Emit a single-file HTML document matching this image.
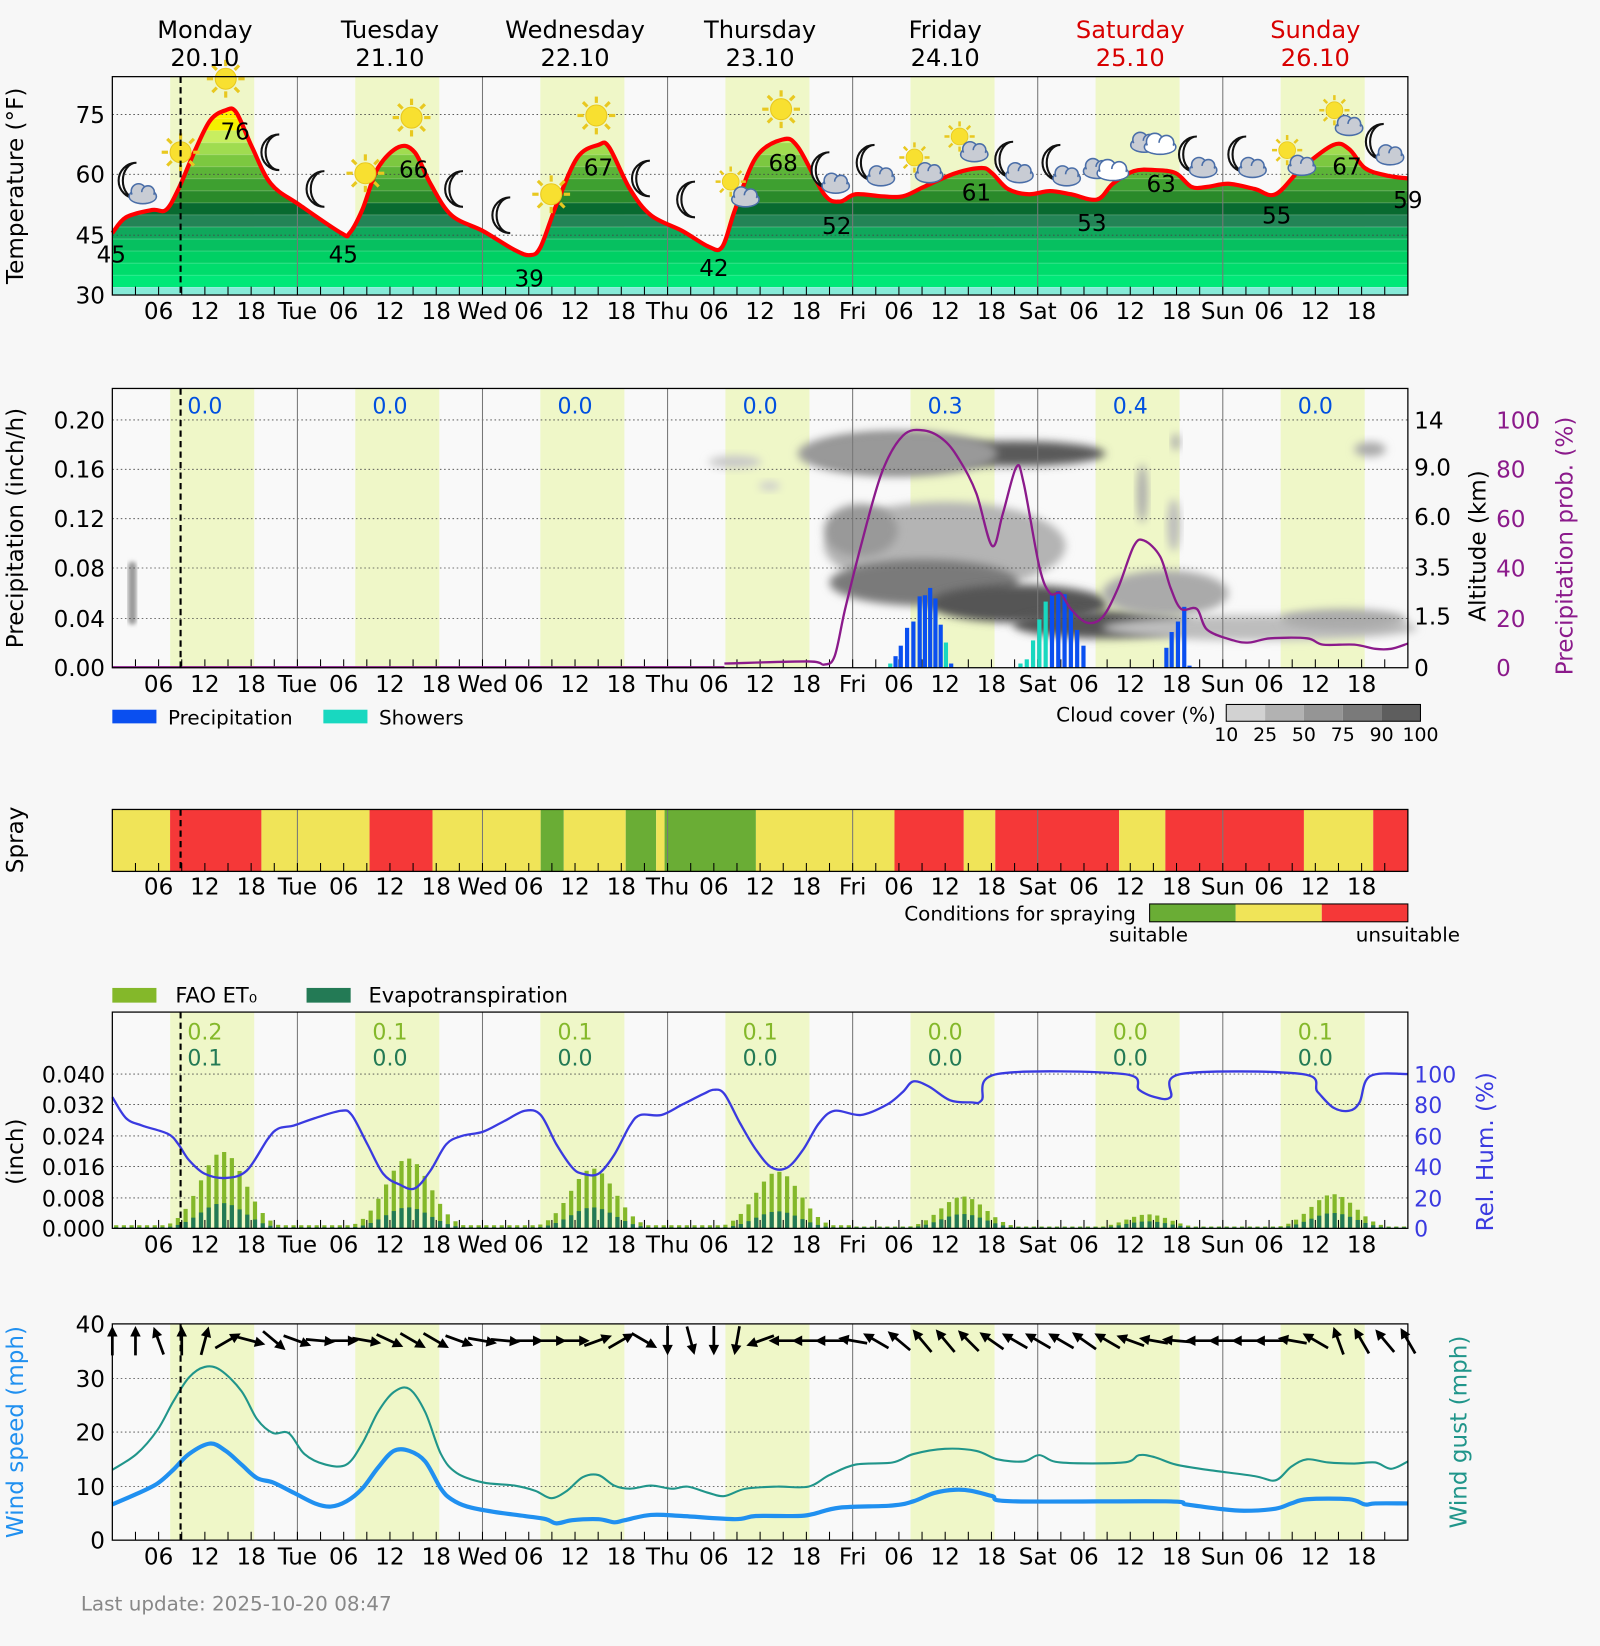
<!DOCTYPE html>
<html><head><meta charset="utf-8">
<style>
html,body{margin:0;padding:0;background:#f7f7f7;}
svg{display:block;font-family:"DejaVu Sans","Liberation Sans",sans-serif;}
</style></head>
<body>
<svg id="s" width="1600" height="1646" viewBox="0 0 1524 1567.8" xmlns="http://www.w3.org/2000/svg"></svg>
<script>
const L=107,R=1341,PX=1234/168;
const X=h=>L+h*PX;
let o='';
function cr(p){let d=`M${p[0][0]},${p[0][1]}`;for(let i=0;i<p.length-1;i++){const a=p[Math.max(i-1,0)],b=p[i],c=p[i+1],e=p[Math.min(i+2,p.length-1)];
 const c1=[b[0]+(c[0]-a[0])/6,b[1]+(c[1]-a[1])/6],c2=[c[0]-(e[0]-b[0])/6,c[1]-(e[1]-b[1])/6];
 d+=`C${c1[0].toFixed(1)},${c1[1].toFixed(1)} ${c2[0].toFixed(1)},${c2[1].toFixed(1)} ${c[0]},${c[1]}`;}return d;}
o+='<defs><filter id="bl" x="-30%" y="-50%" width="160%" height="200%"><feGaussianBlur stdDeviation="4"/></filter>'+
'<filter id="bl2"><feGaussianBlur stdDeviation="2"/></filter>'+
'<g id="sun"><g stroke="#e8c820" stroke-width="3">'+[0,45,90,135,180,225,270,315].map(a=>{const r=a*Math.PI/180;return `<line x1="${(Math.cos(r)*12).toFixed(1)}" y1="${(Math.sin(r)*12).toFixed(1)}" x2="${(Math.cos(r)*18).toFixed(1)}" y2="${(Math.sin(r)*18).toFixed(1)}"/>`}).join('')+'</g><circle r="10" fill="#f8e030" stroke="#e8c820"/></g>'+
'<path id="moon" d="M4,-17 A17,17 0 1 0 4,17 A13,17 0 1 1 4,-17Z" fill="#fff" stroke="#111" stroke-width="2"/>'+
'<g id="cl"><ellipse cx="0" cy="4" rx="13" ry="7" fill="#c8ccd4" stroke="#4a6ea8" stroke-width="1.5"/><circle cx="-4" cy="-1" r="7" fill="#c8ccd4" stroke="#4a6ea8" stroke-width="1.5"/><circle cx="5" cy="0" r="6" fill="#c8ccd4" stroke="#4a6ea8" stroke-width="1.5"/><ellipse cx="0" cy="5" rx="12" ry="5" fill="#c8ccd4"/></g>'+
'<g id="wcl"><ellipse cx="0" cy="4" rx="15" ry="7" fill="#fff" stroke="#4a6ea8" stroke-width="1.5"/><circle cx="-5" cy="-1" r="8" fill="#fff" stroke="#4a6ea8" stroke-width="1.5"/><circle cx="6" cy="0" r="7" fill="#fff" stroke="#4a6ea8" stroke-width="1.5"/><ellipse cx="0" cy="5" rx="14" ry="5" fill="#fff"/></g>'+
'</defs>';
o+='<rect width="1524" height="1568" fill="#f7f7f7"/>';
const plots=[[73,281],[370,636],[771,830],[964,1170],[1261,1467]];
plots.forEach(([t,b],i)=>{
 o+=`<rect x="${L}" y="${t}" width="${R-L}" height="${b-t}" fill="#f9f9f9"/>`;
 if(i!=2) for(let d=0;d<7;d++) o+=`<rect x="${X(d*24+7.5)}" y="${t}" width="${10.9*PX}" height="${b-t}" fill="#eff7c8"/>`;
});
function pl(pts,st,w){return `<path d="${cr(pts)}" fill="none" stroke="${st}" stroke-width="${w}" stroke-linejoin="round"/>`;}
function txt(x,y,s,sz,fill='#000',anc='middle',extra=''){return `<text x="${x}" y="${y}" font-size="${sz}" fill="${fill}" text-anchor="${anc}" ${extra}>${s}</text>`;}
function rot(x,y,s,sz,fill='#000'){return `<text x="${x}" y="${y}" font-size="${sz}" fill="${fill}" text-anchor="middle" transform="rotate(-90 ${x} ${y})">${s}</text>`;}
const tp=[[107,222],[120,207],[145,200],[158,200],[170,180],[185,145],[200,115],[215,105],[225,107],[240,140],[258,175],[285,195],[325,222],[333,222],[345,200],[360,160],[380,140],[395,145],[410,175],[430,205],[460,220],[490,238],[505,243],[515,235],[530,195],[550,150],[570,138],[580,140],[600,180],[620,205],[650,220],[675,235],[688,235],[700,200],[720,150],[745,133],[760,140],[785,185],[800,192],[815,185],[840,187],[860,187],[880,178],[910,165],[935,160],[945,165],[960,180],[980,185],[1000,182],[1020,185],[1045,190],[1060,175],[1080,163],[1100,162],[1120,165],[1135,178],[1150,178],[1170,175],[1195,180],[1215,185],[1240,160],[1270,138],[1285,142],[1300,160],[1320,167],[1341,170]];
o+=`<clipPath id="tc"><path d="${cr(tp)} L1341,281 L107,281Z"/></clipPath><g clip-path="url(#tc)">`;
const bands=[[30,32,'#86ead8'],[32,35,'#00e878'],[35,38,'#00dc6c'],[38,41,'#00d064'],[41,44,'#06c060'],[44,47,'#10a85c'],[47,50,'#238456'],[50,53,'#086a30'],[53,56,'#2a8a2a'],[56,59,'#3ea030'],[59,62,'#5cb438'],[62,65,'#7cc840'],[65,68,'#a0dc50'],[68,71,'#c8ee60'],[71,74,'#f4f000'],[74,80,'#fff200']];
bands.forEach(([a,b,c])=>{const y1=281-(b-30)*3.822,y2=281-(a-30)*3.822;o+=`<rect x="107" y="${y1}" width="1234" height="${y2-y1}" fill="${c}"/><line x1="107" x2="1341" y1="${y1}" y2="${y1}" stroke="#ffffff" stroke-opacity=".3"/>`;});
o+='</g>';
function grid(t,b,ys,vlines=true){let s='';ys.forEach(y=>s+=`<line x1="${L}" x2="${R}" y1="${y}" y2="${y}" stroke="#444" stroke-width="0.8" stroke-dasharray="1.5,2.5"/>`);
 if(vlines) for(let d=1;d<7;d++) s+=`<line x1="${X(d*24)}" x2="${X(d*24)}" y1="${t}" y2="${b}" stroke="#777" stroke-width="1"/>`;
 for(let h=3;h<168;h+=3) s+=`<line x1="${X(h)}" x2="${X(h)}" y1="${b}" y2="${b-8}" stroke="#000" stroke-width="1"/>`;
 return s;}
o+=grid(73,281,[109,166,224]);
o+=pl(tp,'#f00',4);
const ic=[[130,175,'mc'],[172,145,'sun'],[215,75,'sun'],[262,145,'moon'],[305,180,'moon'],[348,165,'sun'],[392,112,'sun'],[437,180,'moon'],[482,205,'moon'],[525,185,'sun'],[568,110,'sun'],[615,170,'moon'],[658,190,'moon'],[700,178,'sc'],[744,104,'sun'],[790,165,'mc'],[833,158,'mc'],[875,155,'sc'],[918,135,'sc'],[965,155,'mc'],[1010,158,'mc'],[1055,155,'cc'],[1100,130,'cc'],[1140,150,'mc'],[1187,150,'mc'],[1230,148,'sc'],[1275,110,'sc'],[1318,138,'mc']];
ic.forEach(([x,y,t])=>{
 if(t=='sun') o+=`<use href="#sun" x="${x}" y="${y}"/>`;
 else if(t=='moon') o+=`<use href="#moon" x="${x}" y="${y}"/>`;
 else if(t=='mc') o+=`<use href="#moon" x="${x-4}" y="${y-3}"/><use href="#cl" x="${x+6}" y="${y+8}"/>`;
 else if(t=='sc') o+=`<g transform="translate(${x-4},${y-5}) scale(.8)"><use href="#sun"/></g><use href="#cl" x="${x+10}" y="${y+8}"/>`;
 else o+=`<use href="#cl" x="${x-10}" y="${y+4}"/><use href="#wcl" x="${x+5}" y="${y+6}"/>`;
});
[[224,125,76],[394,161,66],[570,159,67],[746,155,68],[930,183,61],[1106,175,63],[1283,158,67],[106,242,45],[327,242,45],[504,265,39],[680,255,42],[797,215,52],[1040,212,53],[1216,205,55],[1341,190,59]].forEach(([x,y,v])=>o+=txt(x,y+8,v,22));
o+=`<rect x="${L}" y="73" width="${R-L}" height="208" fill="none" stroke="#000" stroke-width="1.2"/>`;
const dn=['Monday','Tuesday','Wednesday','Thursday','Friday','Saturday','Sunday'];
dn.forEach((d,i)=>{const c=i>=5?'#d80000':'#000';const x=X(i*24+12);o+=txt(x,36,d,23,c)+txt(x,63,(20+i)+'.10',23,c);});
const ab=['Mon','Tue','Wed','Thu','Fri','Sat','Sun'];
function xl(y){let s='';for(let d=0;d<7;d++){if(d>0)s+=txt(X(d*24),y,ab[d],22);['06','12','18'].forEach((l,k)=>s+=txt(X(d*24+6*(k+1)),y,l,22));}return s;}
o+=xl(304);
[[109,75],[166,60],[224,45],[281,30]].forEach(([y,v])=>o+=txt(100,y+8,v,22,'#000','end'));
o+=rot(22,177,'Temperature (°F)',22);
// ---------- P2 clouds
[[900,520,115,42,'#b4b4b4'],[855,432,78,16,'#555'],[965,432,88,12,'#5a5a5a'],[855,432,95,22,'#999'],[880,555,90,22,'#7a7a7a'],[970,575,85,18,'#555'],[1050,595,85,13,'#555'],[1110,565,60,22,'#aaa'],[1200,598,150,12,'#bdbdbd'],[1280,590,60,10,'#aaa'],[820,505,35,25,'#999'],[700,440,25,6,'#c8c8c8'],[733,463,10,4,'#ccc'],[1305,428,15,7,'#aaa'],[1088,470,5,28,'#aaa'],[1118,500,6,25,'#bbb'],[1120,421,4,8,'#aaa']].forEach(([x,y,rx,ry,c])=>o+=`<ellipse cx="${x}" cy="${y}" rx="${rx}" ry="${ry}" fill="${c}" filter="url(#bl)"/>`);
o+=`<rect x="122" y="535" width="8" height="60" rx="4" fill="#999" filter="url(#bl2)"/>`;
o+=grid(370,636,[400,447,494,541,589]);
const bars=[[848,632,1],[853,625,0],[858,615,0],[864,598,0],[870,592,0],[876,568,0],[881,567,0],[886,560,0],[891,570,0],[896,595,0],[901,612,1],[906,632,0],[972,632,1],[978,628,1],[984,610,1],[990,590,1],[996,573,1],[1002,566,0],[1008,563,0],[1014,566,0],[1020,580,0],[1026,600,0],[1032,615,0],[1111,617,0],[1116,602,0],[1122,592,0],[1128,578,0],[1133,634,0]];
bars.forEach(([x,y,t])=>o+=`<rect x="${x-2}" y="${y}" width="4" height="${636-y}" fill="${t?'#18d8c0':'#0a4ff0'}"/>`);
const pp=[[690,632],[770,630],[785,633],[795,625],[805,580],[820,520],[840,450],[860,415],[880,410],[900,420],[915,440],[930,470],[945,520],[955,490],[968,445],[975,460],[990,540],[1000,565],[1010,565],[1020,580],[1035,593],[1050,588],[1065,560],[1080,520],[1090,515],[1105,530],[1115,560],[1125,580],[1140,580],[1150,600],[1175,610],[1190,612],[1210,608],[1245,608],[1260,614],[1290,614],[1310,618],[1325,618],[1341,613]];
o+=pl(pp,'#8b1a8b',2.2);
o+=`<line x1="${L}" x2="690" y1="635.5" y2="635.5" stroke="#8b1a8b" stroke-width="2"/>`;
for(let d=0;d<7;d++) o+=txt(X(d*24+12),394,['0.0','0.0','0.0','0.0','0.3','0.4','0.0'][d],21,'#0050e0');
o+=`<rect x="${L}" y="370" width="${R-L}" height="266" fill="none" stroke="#000" stroke-width="1.2"/>`;
o+=xl(659);
[[400,'0.20'],[447,'0.16'],[494,'0.12'],[541,'0.08'],[589,'0.04'],[636,'0.00']].forEach(([y,v])=>o+=txt(100,y+8,v,22,'#000','end'));
[[400,'14'],[445,'9.0'],[492,'6.0'],[540,'3.5'],[587,'1.5'],[636,'0']].forEach(([y,v])=>o+=txt(1347,y+8,v,22,'#000','start'));
[[400,'100'],[447,'80'],[494,'60'],[541,'40'],[589,'20'],[636,'0']].forEach(([y,v])=>o+=txt(1425,y+8,v,22,'#8b1a8b','start'));
o+=rot(22,503,'Precipitation (inch/h)',22)+rot(1415,520,'Altitude (km)',22)+rot(1498,520,'Precipitation prob. (%)',22,'#8b1a8b');
o+=`<rect x="107" y="676" width="42" height="13" fill="#0a4ff0"/>`+txt(160,690,'Precipitation',19,'#000','start');
o+=`<rect x="308" y="676" width="42" height="13" fill="#18d8c0"/>`+txt(361,690,'Showers',19,'#000','start');
o+=txt(1158,687,'Cloud cover (%)',19,'#000','end');
['#d2d2d2','#b2b2b2','#959595','#7a7a7a','#5e5e5e'].forEach((c,i)=>o+=`<rect x="${1168+i*37}" y="671" width="37" height="16" fill="${c}"/>`);
o+=`<rect x="1168" y="671" width="185" height="16" fill="none" stroke="#000"/>`;
['10','25','50','75','90','100'].forEach((v,i)=>o+=txt(1168+i*37,706,v,18));
// ---------- P3 spray
const sp=[[107,162,'y'],[162,249,'r'],[249,352,'y'],[352,412,'r'],[412,515,'y'],[515,537,'g'],[537,596,'y'],[596,625,'g'],[625,633,'y'],[633,720,'g'],[720,852,'y'],[852,918,'r'],[918,948,'y'],[948,1066,'r'],[1066,1110,'y'],[1110,1242,'r'],[1242,1308,'y'],[1308,1341,'r']];
const SC={y:'#f0e458',r:'#f53838',g:'#6aad35'};
sp.forEach(([a,b,c])=>o+=`<rect x="${a}" y="771" width="${b-a}" height="59" fill="${SC[c]}"/>`);
for(let d=1;d<7;d++) o+=`<line x1="${X(d*24)}" x2="${X(d*24)}" y1="771" y2="830" stroke="#777"/>`;
for(let h=3;h<168;h+=3) o+=`<line x1="${X(h)}" x2="${X(h)}" y1="830" y2="822" stroke="#000"/>`;
o+=`<rect x="${L}" y="771" width="${R-L}" height="59" fill="none" stroke="#000" stroke-width="1.2"/>`;
o+=xl(852)+rot(22,800,'Spray',22);
o+=txt(1082,877,'Conditions for spraying',19,'#000','end');
o+=`<rect x="1095" y="861" width="82" height="17" fill="${SC.g}"/><rect x="1177" y="861" width="82" height="17" fill="${SC.y}"/><rect x="1259" y="861" width="82" height="17" fill="${SC.r}"/><rect x="1095" y="861" width="246" height="17" fill="none" stroke="#000"/>`;
o+=txt(1094,897,'suitable',19)+txt(1341,897,'unsuitable',19);
// ---------- P4 ET
o+=`<rect x="107" y="941" width="42" height="14" fill="#84b82a"/>`+txt(167,955,'FAO ET₀',20,'#000','start');
o+=`<rect x="292" y="941" width="42" height="14" fill="#237a55"/>`+txt(351,955,'Evapotranspiration',20,'#000','start');
o+=grid(964,1170,[1023,1052,1082,1111,1141]);
const peaks=[0.0197,0.018,0.0154,0.0146,0.0082,0.0036,0.0088],er=[0.33,0.3,0.35,0.3,0.45,0.5,0.45];
for(let h=0;h<168;h++){const d=Math.floor(h/24),hh=h%24+0.5;let v=peaks[d]*Math.exp(-Math.pow((hh-14.3)/2.9,2)/2);v=Math.max(v,0.0008*(d<4?1:0.6));
 const e=Math.max(v*er[d],0.0003);const x=X(h+0.5);
 o+=`<rect x="${x-2}" y="${1170-v/0.008*29.6}" width="4" height="${v/0.008*29.6}" fill="#84b82a"/><rect x="${x-2}" y="${1170-e/0.008*29.6}" width="4" height="${e/0.008*29.6}" fill="#237a55"/>`;}
const rh=[[107,1045],[120,1065],[135,1072],[160,1080],[170,1090],[180,1105],[195,1118],[215,1122],[235,1115],[255,1085],[265,1075],[280,1072],[300,1065],[325,1058],[335,1062],[350,1090],[365,1118],[380,1128],[395,1132],[410,1115],[425,1090],[440,1082],[460,1078],[480,1068],[500,1058],[515,1062],[530,1090],[545,1112],[555,1118],[570,1118],[585,1100],[600,1072],[610,1062],[630,1062],[650,1052],[670,1042],[680,1038],[690,1042],[705,1070],[720,1095],[735,1112],[750,1112],[765,1095],[780,1070],[795,1058],[820,1062],[845,1052],[860,1040],[870,1030],[885,1035],[905,1048],[925,1050],[935,1048],[950,1023],[1070,1023],[1085,1038],[1100,1045],[1115,1045],[1125,1023],[1240,1023],[1255,1040],[1270,1055],[1285,1058],[1295,1050],[1305,1025],[1341,1023]];
o+=pl(rh,'#3a3ae0',2.2);
const f=['0.2','0.1','0.1','0.1','0.0','0.0','0.1'],e2=['0.1','0.0','0.0','0.0','0.0','0.0','0.0'];
for(let d=0;d<7;d++){o+=txt(X(d*24+12),990,f[d],21,'#84b82a')+txt(X(d*24+12),1015,e2[d],21,'#237a55');}
o+=`<rect x="${L}" y="964" width="${R-L}" height="206" fill="none" stroke="#000" stroke-width="1.2"/>`;
o+=xl(1193);
[[1023,'0.040'],[1052,'0.032'],[1082,'0.024'],[1111,'0.016'],[1141,'0.008'],[1170,'0.000']].forEach(([y,v])=>o+=txt(100,y+8,v,21,'#000','end'));
[[1023,'100'],[1052,'80'],[1082,'60'],[1111,'40'],[1141,'20'],[1170,'0']].forEach(([y,v])=>o+=txt(1347,y+8,v,21,'#3a3ae0','start'));
o+=rot(22,1097,'(inch)',22)+rot(1422,1097,'Rel. Hum. (%)',22,'#3a3ae0');
// ---------- P5 wind
o+=grid(1261,1467,[1261,1313,1364,1416]);
const ws=[[107,1433],[130,1423],[150,1413],[165,1400],[180,1385],[200,1375],[215,1382],[230,1395],[245,1408],[260,1412],[280,1422],[300,1432],[315,1435],[330,1430],[345,1418],[360,1398],[375,1382],[390,1382],[405,1392],[420,1418],[430,1428],[445,1435],[470,1440],[500,1444],[520,1447],[530,1451],[545,1448],[570,1447],[585,1450],[595,1448],[620,1443],[650,1444],[700,1447],[720,1444],[760,1444],[775,1442],[800,1436],[850,1434],[870,1430],[890,1422],[910,1419],[925,1420],[945,1425],[965,1430],[1110,1430],[1130,1433],[1160,1437],[1185,1439],[1215,1437],[1230,1432],[1245,1428],[1285,1428],[1300,1433],[1310,1432],[1341,1432]];
const wg=[[107,1400],[130,1385],[150,1362],[165,1335],[180,1312],[195,1302],[210,1305],[230,1325],[245,1352],[260,1365],[275,1365],[290,1385],[310,1395],[330,1395],[345,1375],[360,1345],[375,1326],[390,1323],[405,1345],[420,1385],[435,1403],[460,1412],[490,1415],[510,1420],[525,1427],[540,1420],[555,1407],[570,1405],[585,1415],[600,1418],[620,1415],[640,1418],[655,1416],[675,1422],[690,1425],[710,1418],[740,1416],[770,1416],[790,1405],[815,1395],[850,1393],[870,1385],[900,1380],[930,1382],[950,1390],[975,1392],[990,1386],[1010,1393],[1070,1393],[1085,1386],[1100,1388],[1120,1395],[1150,1400],[1195,1406],[1215,1410],[1230,1397],[1245,1390],[1265,1393],[1290,1394],[1310,1393],[1325,1399],[1341,1392]];
o+=pl(wg,'#20958a',2)+pl(ws,'#2090f0',4);
const ang=[0,0,-20,0,15,60,105,130, 110,95,90,100,115,120,120,110, 100,95,90,90,90,70,60,120, 180,165,180,190,250,270,270,270, 280,300,310,320,320,315,305,300, 300,300,305,300,290,280,275,270, 270,270,270,280,300,340,330,320,330];
ang.forEach((a,i)=>{const x=X(i*3),y=1277,r=a*Math.PI/180,dx=Math.sin(r),dy=-Math.cos(r),l=14;
 const x2=x+dx*l,y2=y+dy*l,x1=x-dx*l,y1=y-dy*l;const px=-dy,py=dx;
 o+=`<line x1="${x1}" y1="${y1}" x2="${x2-dx*6}" y2="${y2-dy*6}" stroke="#000" stroke-width="2.6"/><polygon points="${x2},${y2} ${x2-dx*10+px*5},${y2-dy*10+py*5} ${x2-dx*10-px*5},${y2-dy*10-py*5}" fill="#000"/>`;});
o+=`<rect x="${L}" y="1261" width="${R-L}" height="206" fill="none" stroke="#000" stroke-width="1.2"/>`;
o+=xl(1490);
[[1261,40],[1313,30],[1364,20],[1416,10],[1467,0]].forEach(([y,v])=>o+=txt(100,y+8,v,22,'#000','end'));
o+=rot(22,1364,'Wind speed (mph)',22,'#2090f0')+rot(1397,1364,'Wind gust (mph)',22,'#20958a');
[[73,281],[370,636],[771,830],[964,1170],[1261,1467]].forEach(([t,b])=>o+=`<line x1="${X(8.85)}" x2="${X(8.85)}" y1="${t}" y2="${b}" stroke="#000" stroke-width="2" stroke-dasharray="6,4"/>`);
o+=txt(77,1534,'Last update: 2025-10-20 08:47',19,'#888','start');
document.getElementById('s').innerHTML=o;
</script>
</body></html>
